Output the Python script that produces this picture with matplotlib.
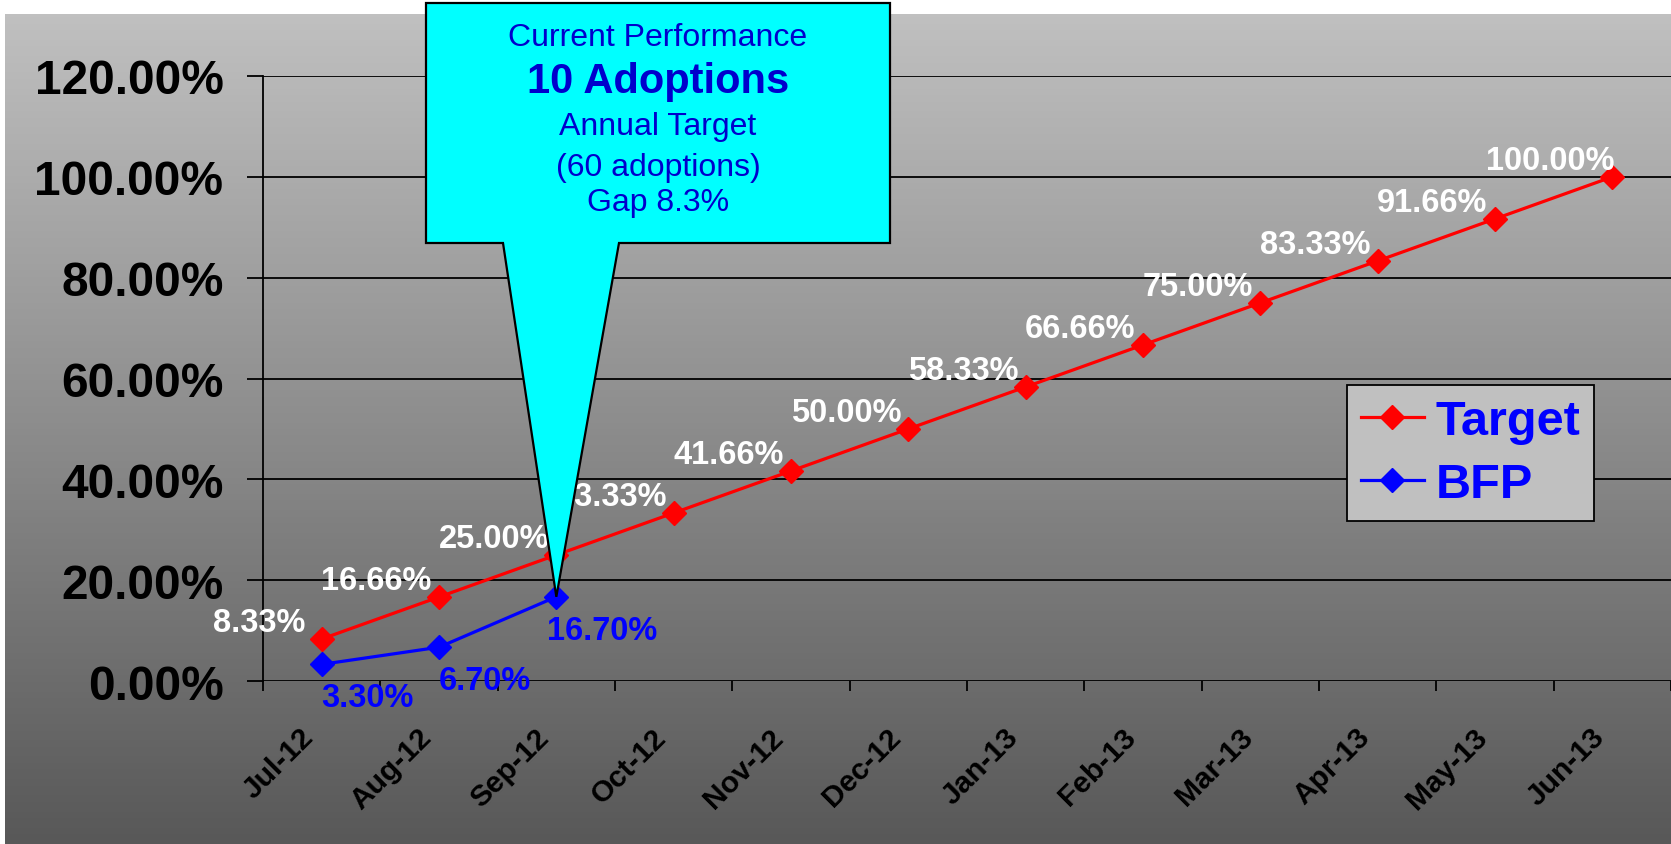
import numpy as np
import matplotlib
matplotlib.use("Agg")
import matplotlib.pyplot as plt
from matplotlib.colors import LinearSegmentedColormap
from matplotlib.patches import Polygon
from matplotlib.transforms import IdentityTransform, ScaledTranslation
from matplotlib.ticker import FuncFormatter, FixedLocator

plt.rcParams['font.family'] = ['Liberation Sans', 'DejaVu Sans']
plt.rcParams['font.weight'] = 'bold'

# ---------------- data ----------------
months = ['Jul-12', 'Aug-12', 'Sep-12', 'Oct-12', 'Nov-12', 'Dec-12',
          'Jan-13', 'Feb-13', 'Mar-13', 'Apr-13', 'May-13', 'Jun-13']
target = [8.33, 16.66, 25.00, 33.33, 41.66, 50.00,
          58.33, 66.66, 75.00, 83.33, 91.66, 100.00]
bfp = [3.30, 6.70, 16.70]
yticks = [0, 20, 40, 60, 80, 100, 120]
callout_lines = ['Current Performance', '10 Adoptions', 'Annual Target',
                 '(60 adoptions)', 'Gap 8.3%']

W, H = 1671, 845
fig = plt.figure(figsize=(W / 100, H / 100), dpi=100)
fig.patch.set_facecolor('white')

# gradient background
bg = fig.add_axes([5 / W, 0, 1 - 5 / W, (H - 15) / H])
cmap = LinearSegmentedColormap.from_list('g', ['#c0c0c0', '#585858'])
grad = np.linspace(0, 1, 256).reshape(-1, 1)
bg.imshow(grad, aspect='auto', cmap=cmap, extent=[0, 1, 0, 1], origin='upper')
bg.set_axis_off()
bg.set_zorder(0)

# main axes
ax = fig.add_axes([263 / W, 1 - 682 / H, (W - 263) / W, (682 - 77) / H])
ax.set_zorder(1)
ax.set_facecolor('none')
n = len(months)
ax.set_xlim(0, n)
ax.set_ylim(0, 120)

x = np.arange(n) + 0.5
ax.plot(x, target, color='#ff0000', lw=2.3, marker='D', ms=12,
        label='Target', zorder=4, clip_on=False)
ax.plot(x[:len(bfp)], bfp, color='#0000ff', lw=2.3, marker='D', ms=12,
        label='BFP', zorder=4, clip_on=False)

for xi, v in zip(x, target):
    ax.annotate(f'{v:.2f}%', (xi, v), xytext=(-45, 12), textcoords='offset points',
                ha='center', va='center', color='white', fontsize=23.5,
                fontweight='bold', zorder=5)
for xi, v in zip(x, bfp):
    ax.annotate(f'{v:.2f}%', (xi, v), xytext=(33, -24), textcoords='offset points',
                ha='center', va='center', color='#0000ff', fontsize=23.5,
                fontweight='bold', zorder=5)

# axes styling
for s in ['top', 'right', 'bottom']:
    ax.spines[s].set_visible(False)
ax.spines['left'].set_color('black')
ax.spines['left'].set_linewidth(1.3)

ax.yaxis.set_major_locator(FixedLocator(yticks))
ax.yaxis.set_major_formatter(FuncFormatter(lambda v, p: f'{v:.2f}%'))
ax.grid(axis='y', color='black', lw=1.3)
ax.set_axisbelow(True)
ax.tick_params(axis='y', length=11.5, width=1.3, pad=17, labelsize=34.5, colors='black')

ax.set_xticks(np.arange(n + 1))
ax.set_xticklabels([])
ax.set_xticks(x, minor=True)
ax.set_xticklabels(months, minor=True)
ax.tick_params(axis='x', which='major', length=7, width=1.3, direction='out', colors='black')
ax.tick_params(axis='x', which='minor', length=0, pad=37, labelsize=21.5)
off = ScaledTranslation(-12 / 100, 0, fig.dpi_scale_trans)
for lbl in ax.get_xticklabels(minor=True):
    lbl.set_rotation(45)
    lbl.set_ha('right')
    lbl.set_va('center')
    lbl.set_rotation_mode('anchor')
    lbl.set_fontweight('bold')
    lbl.set_transform(lbl.get_transform() + off)

leg = ax.legend(loc='upper left', bbox_to_anchor=(1347 / W, 1 - 386 / H),
                bbox_transform=fig.transFigure, borderaxespad=0,
                fancybox=False, framealpha=1, facecolor='#c0c0c0',
                edgecolor='black', labelcolor='#0000ff', handlelength=1.3,
                handletextpad=0.25, labelspacing=0.38, borderpad=0.28,
                prop={'size': 35, 'weight': 'bold'})
leg.get_frame().set_linewidth(1.3)

# callout
tip = ax.transData.transform((x[len(bfp) - 1], bfp[-1]))
bx0, bx1, by0, by1 = 426, 890, 4, 244
tl, tr = 503, 619
pts = [(bx0, H - by0), (bx1, H - by0), (bx1, H - by1), (tr, H - by1),
       (tip[0], tip[1]), (tl, H - by1), (bx0, H - by1)]
poly = Polygon(pts, closed=True, facecolor='#00ffff', edgecolor='black',
               lw=1.6, zorder=10)
poly.set_transform(IdentityTransform())
fig.add_artist(poly)

cx = (bx0 + bx1) / 2
ys = [38, 82, 127, 168, 203]
styles = [(23, 'normal'), (30, 'bold'), (23, 'normal'), (23, 'normal'), (23, 'normal')]
for t, yy, (fs, fw) in zip(callout_lines, ys, styles):
    fig.text(cx / W, 1 - yy / H, t, ha='center', va='center', fontsize=fs,
             fontweight=fw, color='#0000cc', zorder=11)

fig.savefig('out.png', dpi=100)
